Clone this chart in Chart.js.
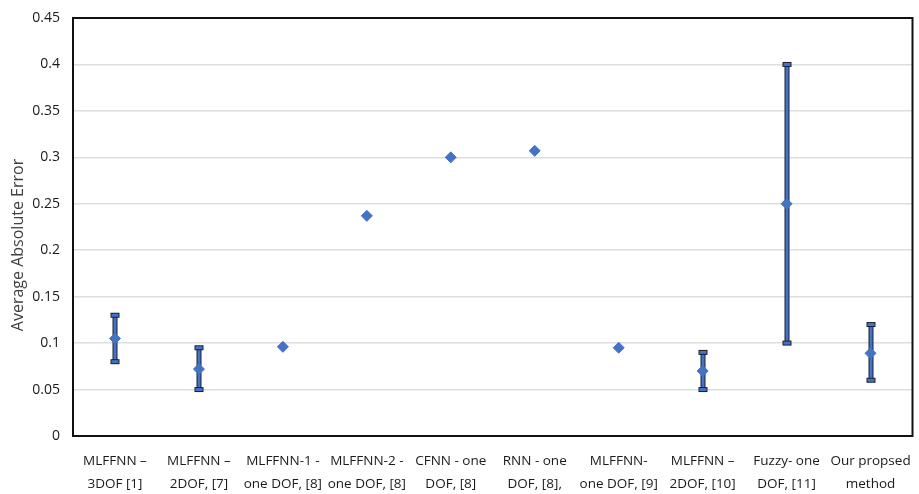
<!DOCTYPE html>
<html>
<head>
<meta charset="utf-8">
<script src="https://cdn.jsdelivr.net/npm/chart.js@4"></script>
<style>
  html, body { margin: 0; padding: 0; background: #fff; }
  #wrap { width: 919px; height: 494px; }
</style>
</head>
<body>
<div id="wrap"><canvas id="errChart" width="919" height="494"></canvas></div>
<script>
// methods compared
const methods = [
  ["MLFFNN \u2013", "3DOF [1]"],
  ["MLFFNN \u2013", "2DOF, [7]"],
  ["MLFFNN-1 -", "one DOF, [8]"],
  ["MLFFNN-2 -", "one DOF, [8]"],
  ["CFNN - one", "DOF, [8]"],
  ["RNN - one", "DOF, [8],"],
  ["MLFFNN-", "one DOF, [9]"],
  ["MLFFNN \u2013", "2DOF, [10]"],
  ["Fuzzy- one", "DOF, [11]"],
  ["Our propsed", "method"]
]
// average absolute error and its range (null = no range given)
const avgError = [0.105, 0.072, 0.096, 0.237, 0.300, 0.307, 0.095, 0.070, 0.250, 0.089]
const errLow  = [0.080, 0.050, null, null, null, null, null, 0.050, 0.100, 0.060]
const errHigh = [0.130, 0.095, null, null, null, null, null, 0.090, 0.400, 0.120]
const yTitle = "Average Absolute Error"

const blue = "#4472C4"
const dark = "#1b2230"

// draws the min/max whiskers behind the markers
const errorBars = {
  id: "errorBars",
  beforeDatasetsDraw(chart) {
    const ctx = chart.ctx
    const x = chart.scales.x, y = chart.scales.y
    ctx.save()
    for (let i = 0; i < avgError.length; i++) {
      if (errLow[i] == null) continue
      const px = Math.round(x.getPixelForValue(i))
      const top = y.getPixelForValue(errHigh[i])
      const bot = y.getPixelForValue(errLow[i])
      // stem
      ctx.fillStyle = dark
      ctx.fillRect(px - 2.5, top, 5, bot - top)
      ctx.fillStyle = blue
      ctx.fillRect(px - 1.5, top, 3, bot - top)
      // caps
      for (const cy of [top, bot]) {
        ctx.fillStyle = dark
        ctx.fillRect(px - 4.5, cy - 2.5, 9, 5)
        ctx.fillStyle = blue
        ctx.fillRect(px - 3.5, cy - 1.5, 7, 3)
      }
    }
    ctx.restore()
  }
}

// black frame round the plot area + the rotated axis title
const frame = {
  id: "frame",
  afterDraw(chart) {
    const a = chart.chartArea
    const ctx = chart.ctx
    ctx.save()
    ctx.strokeStyle = "#111"
    ctx.lineWidth = 2
    ctx.strokeRect(a.left, a.top, a.right - a.left, a.bottom - a.top)

    ctx.translate(18, (a.top + a.bottom) / 2 + 18)
    ctx.rotate(-Math.PI / 2)
    ctx.fillStyle = "#404040"
    ctx.font = "16px 'Open Sans'"
    ctx.textAlign = "center"
    ctx.textBaseline = "middle"
    ctx.fillText(yTitle, 0, 0)
    ctx.restore()
  }
}

new Chart(document.getElementById("errChart"), {
  type: "line",
  data: {
    labels: methods,
    datasets: [{
      label: yTitle,
      data: avgError,
      showLine: false,
      pointStyle: "rectRot",
      pointRadius: 5.5,
      pointBackgroundColor: blue,
      pointBorderColor: blue,
      pointBorderWidth: 1
    }]
  },
  options: {
    responsive: false,
    animation: false,
    layout: { padding: { top: 18, right: -1, left: 0, bottom: 0 } },
    plugins: {
      legend: { display: false },
      tooltip: { enabled: false }
    },
    scales: {
      x: {
        offset: true,
        grid: { display: false, drawTicks: false },
        border: { display: false },
        ticks: {
          autoSkip: false,
          maxRotation: 0,
          minRotation: 0,
          padding: 13,
          color: "#1a1a1a",
          font: { family: "Open Sans", size: 13.5, lineHeight: 1.75 }
        },
        afterFit(s) {
          s.height = 58
          s.paddingLeft = 0
          s.paddingRight = 0
          s.paddingTop = 0
          s.paddingBottom = 0
        }
      },
      y: {
        min: 0,
        max: 0.45,
        grid: { color: "#dedede", lineWidth: 1.5, drawTicks: false },
        border: { display: false },
        ticks: {
          stepSize: 0.05,
          padding: 13,
          color: "#1a1a1a",
          font: { family: "Open Sans", size: 14 },
          callback: v => String(Number(v.toFixed(2)))
        },
        afterFit(s) {
          s.width = 73
          s.paddingTop = 0
          s.paddingBottom = 0
          s.paddingLeft = 0
          s.paddingRight = 0
        }
      }
    }
  },
  plugins: [errorBars, frame]
})
</script>
</body>
</html>
